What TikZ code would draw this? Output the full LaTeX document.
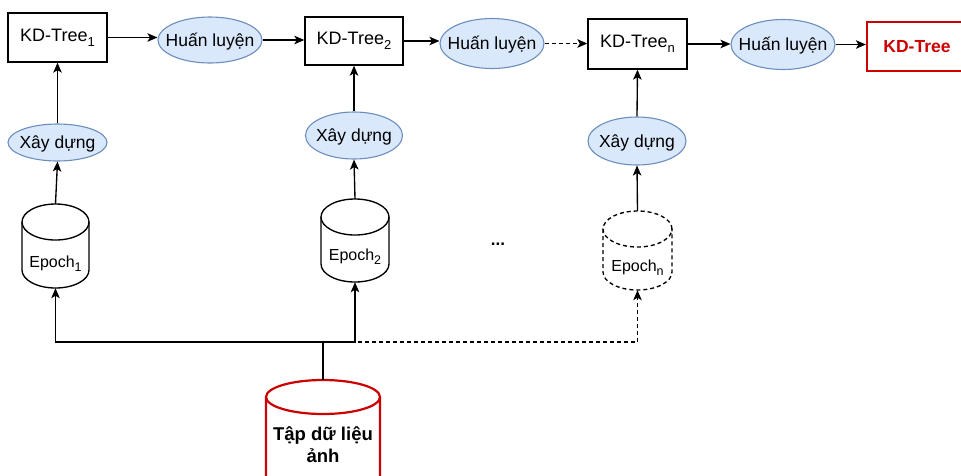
\documentclass[tikz,border=0pt]{standalone}
\usepackage{fontspec}
\setmainfont{Liberation Sans}
\usetikzlibrary{arrows.meta,shapes.geometric}
\definecolor{ellfill}{HTML}{DAE8FC}
\definecolor{elldraw}{HTML}{6C8EBF}
\definecolor{redc}{HTML}{CC0000}
\newcommand\cylout[6]{%
  \draw[#6] (#1,#2+#5) ellipse [x radius=#4pt, y radius=#5pt];
  \draw[#6] (#1-#4,#2+#5) -- (#1-#4,#3-#5)
     arc [start angle=180, end angle=360, x radius=#4pt, y radius=#5pt]
     -- (#1+#4,#2+#5);}
\newcommand\etxt[2][-6pt]{\raisebox{#1}[0pt][0pt]{\makebox[0pt]{#2}}}
\newcommand\sbs[1]{\raisebox{-0.28em}{\fontsize{13}{14}\selectfont #1}}
\newcommand\esbs[1]{\raisebox{-0.28em}{\fontsize{12.5}{14}\selectfont #1}}
\begin{document}
\begin{tikzpicture}[x=1pt,y=-1pt,
  lw/.style={line width=1.35pt},
  box/.style={draw, lw, rectangle, inner sep=0pt, minimum width=99pt, minimum height=49pt,
              font=\fontsize{18}{21}\selectfont},
  redbox/.style={box, draw=redc, line width=2.2pt, text=redc, font=\fontsize{17.5}{20}\selectfont\bfseries},
  ell/.style={draw=elldraw, fill=ellfill, ellipse, line width=1.1pt, inner sep=0pt,
              minimum width=104pt, minimum height=48pt, font=\fontsize{17.5}{20}\selectfont},
  cylnode/.style={rectangle, inner sep=0pt, font=\fontsize{16}{18}\selectfont},
  arr/.style={lw, -{Stealth[length=10pt,width=8.5pt,inset=2.5pt]}},
  dsh/.style={dash pattern=on 4pt off 3pt}]
\useasboundingbox (0,0) rectangle (961,475);
\clip (0,0) rectangle (961,475);

% top row
\node[box] (kd1) at (57.5,37.5) {KD-Tree\sbs{1}};
\node[ell, minimum height=46pt] (h1) at (210,40) {\etxt{Huấn luyện}};
\node[box, minimum width=98pt, minimum height=48pt] (kd2) at (354,41) {KD-Tree\sbs{2}};
\node[ell, minimum height=50pt] (h2) at (492,43.5) {\etxt{Huấn luyện}};
\node[box, minimum height=50pt] (kdn) at (637.5,44) {KD-Tree\sbs{n}};
\node[ell, minimum height=50pt] (h3) at (783,44.5) {\etxt{Huấn luyện}};
\node[redbox, minimum width=100pt] (kdf) at (917,46.5) {KD-Tree};

% build row
\node[ell, minimum width=99pt, minimum height=37pt] (x1) at (57.5,142.5) {\etxt{Xây dựng}};
\node[ell, minimum width=97pt, minimum height=47pt] (x2) at (354,135.5) {\etxt{Xây dựng}};
\node[ell, minimum width=98pt, minimum height=48pt] (x3) at (637,141) {\etxt{Xây dựng}};

% epoch cylinders
\cylout{55.5}{204}{288}{33.5}{18}{lw}
\node[cylnode, minimum width=67pt, minimum height=84pt] (ep1) at (55.5,246)
   {\etxt[-21.5pt]{Epoch\esbs{1}}};
\cylout{355}{199}{282}{34}{18}{lw}
\node[cylnode, minimum width=68pt, minimum height=83pt] (ep2) at (355,240.5)
   {\etxt[-20pt]{Epoch\esbs{2}}};
\cylout{637.5}{211}{290}{34.5}{18}{lw,dsh}
\node[cylnode, minimum width=69pt, minimum height=79pt] (epn) at (637.5,250.5)
   {\etxt[-21pt]{Epoch\esbs{n}}};

\node[font=\fontsize{17}{20}\selectfont\bfseries] (dots) at (498,244) {...};

% dataset
\cylout{323}{380}{500}{57}{17}{draw=redc,line width=2.2pt}
\node[rectangle, inner sep=0pt, minimum width=114pt, minimum height=120pt] (data) at (323,440) {};
\node[font=\fontsize{18.5}{22}\selectfont\bfseries, align=center, inner sep=0pt] (datat) at (323,445)
   {Tập dữ liệu\\ảnh};

% connectors top row
\draw[arr] (kd1.east) -- (kd1.east -| h1.west);
\draw[arr] (h1.east) -- (h1.east -| kd2.west);
\draw[arr] (kd2.east) -- (kd2.east -| h2.west);
\draw[arr, dsh] (h2.east) -- (h2.east -| kdn.west);
\draw[arr] (kdn.east) -- (kdn.east -| h3.west);
\draw[arr] (h3.east) -- (h3.east -| kdf.west);

% vertical
\draw[arr] (x1.north) -- (kd1.south);
\draw[arr] (x2.north) -- (kd2.south);
\draw[arr] (x3.north) -- (kdn.south);
\draw[arr] (ep1.north) -- (x1.south);
\draw[arr] (ep2.north) -- (x2.south);
\draw[arr] (epn.north) -- (x3.south);

% dataset distribution
\coordinate (junc) at (323,342);
\draw[lw] (data.north) -- (junc);
\draw[arr] (junc) -| (ep1.south);
\draw[arr] (junc) -| (ep2.south);
\draw[arr, dsh] (junc) -| (epn.south);
\end{tikzpicture}
\end{document}
